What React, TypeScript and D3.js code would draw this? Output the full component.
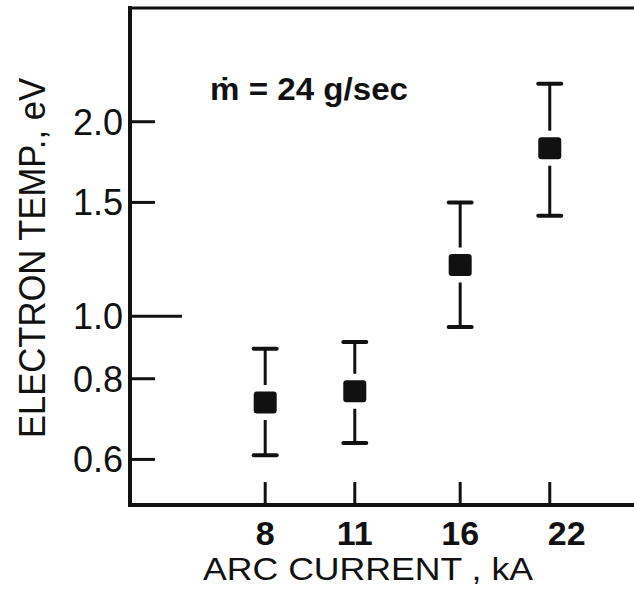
import React from "react";
import * as d3 from "d3";

// arc current (kA) and electron temperature (eV)
const currents = [8, 11, 16, 22];
const tempMid = [0.735, 0.765, 1.2, 1.82];
const tempHigh = [0.89, 0.912, 1.5, 2.29];
const tempLow = [0.609, 0.636, 0.962, 1.43];

const yTicks = [0.6, 0.8, 1.0, 1.5, 2.0];
const yTickLabels = ["0.6", "0.8", "1.0", "1.5", "2.0"];
const xTickLabels = ["8", "11", "16", "22"];

const App = () => {
  const svgRef = React.useRef<SVGSVGElement | null>(null);
  const W = 634;
  const H = 598;
  const frame = { left: 130, top: 8, bottom: 505, right: 634 };

  React.useEffect(() => {
    const svg = d3.select(svgRef.current);
    svg.selectAll("*").remove();
    svg.append("rect").attr("width", W).attr("height", H).style("fill", "#fff");

    const font = "'Liberation Sans', Arial, sans-serif";
    const ink = "#111";

    // log-log paper
    const x = d3.scaleLog().domain([5, 30]).range([133, 637]);
    const y = d3.scaleLog().domain([0.51, 3.0]).range([frame.bottom, frame.top]);

    // frame: left axis, bottom axis, top edge (right edge is cut off)
    svg
      .append("line")
      .attr("x1", frame.left)
      .attr("x2", frame.left)
      .attr("y1", frame.top - 2)
      .attr("y2", frame.bottom + 2)
      .style("stroke", ink)
      .style("stroke-width", 4);
    svg
      .append("line")
      .attr("x1", frame.left - 2)
      .attr("x2", frame.right)
      .attr("y1", frame.bottom)
      .attr("y2", frame.bottom)
      .style("stroke", ink)
      .style("stroke-width", 4);
    svg
      .append("line")
      .attr("x1", frame.left - 2)
      .attr("x2", frame.right)
      .attr("y1", frame.top)
      .attr("y2", frame.top)
      .style("stroke", ink)
      .style("stroke-width", 3);

    // y ticks, 1.0 is the long one
    svg
      .selectAll("yTicks")
      .data(yTicks)
      .enter()
      .append("line")
      .attr("x1", frame.left)
      .attr("x2", (d) => (d === 1 ? frame.left + 52 : frame.left + 25))
      .attr("y1", (d) => y(d))
      .attr("y2", (d) => y(d))
      .style("stroke", ink)
      .style("stroke-width", 3);
    svg
      .selectAll("yLabels")
      .data(yTicks)
      .enter()
      .append("text")
      .attr("x", 123)
      .attr("y", (d) => y(d) + 13)
      .attr("text-anchor", "end")
      .style("font-family", font)
      .style("font-size", "36px")
      .style("fill", ink)
      .text((d, i) => yTickLabels[i]);

    // x ticks point up from the bottom axis
    svg
      .selectAll("xTicks")
      .data(currents)
      .enter()
      .append("line")
      .attr("x1", (d) => x(d))
      .attr("x2", (d) => x(d))
      .attr("y1", frame.bottom)
      .attr("y2", frame.bottom - 23)
      .style("stroke", ink)
      .style("stroke-width", 3);
    svg
      .selectAll("xLabels")
      .data(currents)
      .enter()
      .append("text")
      .attr("x", (d) => x(d) + (d === 22 ? 17 : 0))
      .attr("y", 545)
      .attr("text-anchor", "middle")
      .style("font-family", font)
      .style("font-size", "34px")
      .style("font-weight", "bold")
      .style("fill", ink)
      .text((d, i) => xTickLabels[i]);

    // axis titles
    svg
      .append("text")
      .attr("x", 368)
      .attr("y", 580)
      .attr("text-anchor", "middle")
      .attr("textLength", 330)
      .attr("lengthAdjust", "spacingAndGlyphs")
      .style("font-family", font)
      .style("font-size", "31px")
      .style("fill", ink)
      .text("ARC CURRENT , kA");
    svg
      .append("text")
      .attr("transform", "translate(45, 258) rotate(-90)")
      .attr("text-anchor", "middle")
      .attr("textLength", 360)
      .attr("lengthAdjust", "spacingAndGlyphs")
      .style("font-family", font)
      .style("font-size", "36px")
      .style("fill", ink)
      .text("ELECTRON TEMP., eV");

    // mass flow note
    svg
      .append("text")
      .attr("x", 210)
      .attr("y", 100)
      .attr("textLength", 198)
      .attr("lengthAdjust", "spacingAndGlyphs")
      .style("font-family", font)
      .style("font-size", "32px")
      .style("font-weight", "bold")
      .style("fill", ink)
      .text("ṁ = 24 g/sec");

    // error bars: caps + stems with a gap round the marker
    const pts = currents.map((c, i) => ({
      c,
      mid: tempMid[i],
      hi: tempHigh[i],
      lo: tempLow[i],
    }));
    const box = 23;
    const gap = 6;
    const g = svg.append("g");
    g.selectAll("capHi")
      .data(pts)
      .enter()
      .append("line")
      .attr("x1", (d) => x(d.c) - box / 2)
      .attr("x2", (d) => x(d.c) + box / 2)
      .attr("y1", (d) => y(d.hi))
      .attr("y2", (d) => y(d.hi))
      .style("stroke", ink)
      .style("stroke-width", 4)
      .style("stroke-linecap", "round");
    g.selectAll("capLo")
      .data(pts)
      .enter()
      .append("line")
      .attr("x1", (d) => x(d.c) - box / 2)
      .attr("x2", (d) => x(d.c) + box / 2)
      .attr("y1", (d) => y(d.lo))
      .attr("y2", (d) => y(d.lo))
      .style("stroke", ink)
      .style("stroke-width", 4)
      .style("stroke-linecap", "round");
    g.selectAll("stemHi")
      .data(pts)
      .enter()
      .append("line")
      .attr("x1", (d) => x(d.c))
      .attr("x2", (d) => x(d.c))
      .attr("y1", (d) => y(d.hi))
      .attr("y2", (d) => y(d.mid) - box / 2 - gap)
      .style("stroke", ink)
      .style("stroke-width", 3);
    g.selectAll("stemLo")
      .data(pts)
      .enter()
      .append("line")
      .attr("x1", (d) => x(d.c))
      .attr("x2", (d) => x(d.c))
      .attr("y1", (d) => y(d.mid) + box / 2 + gap)
      .attr("y2", (d) => y(d.lo))
      .style("stroke", ink)
      .style("stroke-width", 3);
    g.selectAll("marks")
      .data(pts)
      .enter()
      .append("rect")
      .attr("x", (d) => x(d.c) - box / 2)
      .attr("y", (d) => y(d.mid) - 11)
      .attr("width", box)
      .attr("height", 22)
      .attr("rx", 3)
      .style("fill", ink);
  }, []);

  return (
    <svg
      ref={svgRef}
      width={W}
      height={H}
      style={{ position: "absolute", left: 0, top: 0 }}
    />
  );
};

export default App;
